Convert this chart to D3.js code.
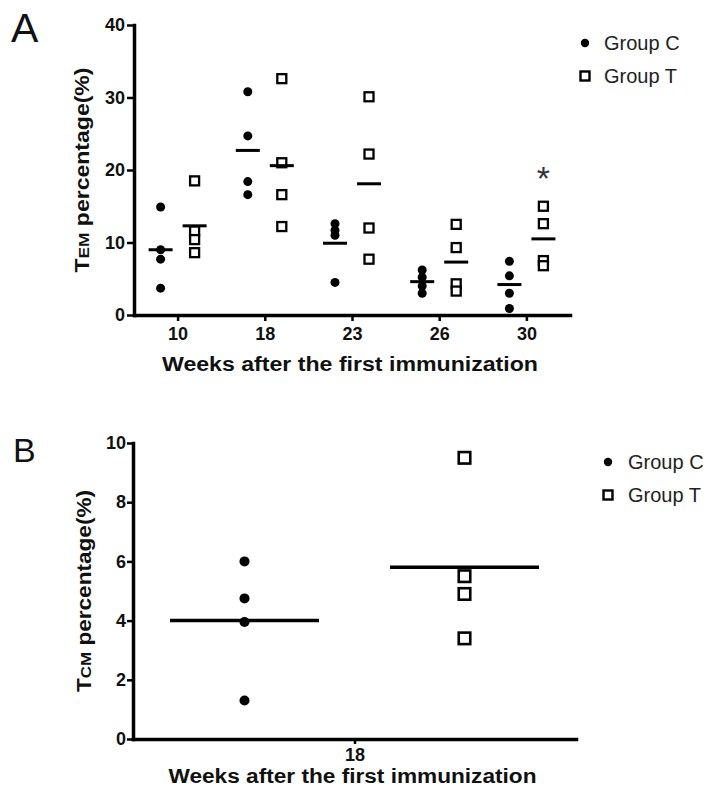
<!DOCTYPE html>
<html>
<head>
<meta charset="utf-8">
<script src="https://cdn.jsdelivr.net/npm/d3@7"></script>
<style>
  body { margin: 0; background: #fff; }
  svg { display: block; font-family: "Liberation Sans", Arial, sans-serif; }
  .axis path, .axis line { stroke: #000; }
  .axis text { font-weight: bold; font-size: 18px; fill: #111; }
</style>
</head>
<body>
<div id="chart"></div>
<script>
  // панель A: недели и значения по группам
  let weeksA = ['10', '18', '23', '26', '30'];
  let groupCA = [
    [14.9, 9.0, 7.7, 3.7],
    [30.8, 24.7, 18.4, 16.6],
    [12.6, 11.7, 11.0, 4.5],
    [6.2, 5.2, 4.0, 3.0],
    [7.4, 5.4, 3.0, 0.9]
  ];
  let groupTA = [
    [18.5, 11.6, 10.4, 8.6],
    [32.6, 21.0, 16.6, 12.2],
    [30.1, 22.2, 12.0, 7.7],
    [12.5, 9.3, 4.3, 3.3],
    [15.0, 12.6, 7.5, 6.8]
  ];
  let meanCA = [9.0, 22.7, 9.9, 4.6, 4.2];
  let meanTA = [12.3, 20.6, 18.1, 7.3, 10.5];
  let yTicksA = [0, 10, 20, 30, 40];

  // панель B
  let weeksB = ['18'];
  let groupCB = [[6.0, 4.75, 3.95, 1.3]];
  let groupTB = [[9.5, 5.5, 4.9, 3.4]];
  let meanCB = [4.0];
  let meanTB = [5.8];
  let yTicksB = [0, 2, 4, 6, 8, 10];

  let groups = ['Group C', 'Group T'];
  let xTitle = 'Weeks after the first immunization';

  let svg = d3.select('#chart').append('svg')
              .attr('width', 709).attr('height', 800);

  // общая функция рисования панели
  function panel(o) {
    let x = d3.scalePoint().domain(o.weeks).range(o.xr).padding(0.5);
    let y = d3.scaleLinear().domain(o.yd).range(o.yr);
    let g = svg.append('g');

    let ya = g.append('g').attr('class', 'axis')
      .attr('transform', `translate(${o.xr[0]},0)`)
      .call(d3.axisLeft(y).tickValues(o.yTicks).tickSize(o.tick).tickSizeOuter(0).tickPadding(o.ypad));
    let xa = g.append('g').attr('class', 'axis')
      .attr('transform', `translate(0,${o.yr[0]})`)
      .call(d3.axisBottom(x).tickSize(o.tick - 1).tickSizeOuter(0).tickPadding(o.xpad));
    g.selectAll('.axis path').attr('stroke-width', 3.5).attr('stroke-linecap', 'square');
    g.selectAll('.axis line').attr('stroke-width', 2.5);

    // точки группы C
    o.c.forEach((vals, i) => {
      g.selectAll(null).data(vals).enter().append('circle')
        .attr('cx', x(o.weeks[i]) - o.off).attr('cy', d => y(d))
        .attr('r', o.r).attr('fill', '#000');
    });
    // квадраты группы T
    o.t.forEach((vals, i) => {
      g.selectAll(null).data(vals).enter().append('rect')
        .attr('x', x(o.weeks[i]) + o.off - o.sq / 2).attr('y', d => y(d) - o.sq / 2)
        .attr('width', o.sq).attr('height', o.sq)
        .attr('fill', '#fff').attr('stroke', '#000').attr('stroke-width', o.sqw);
    });
    // средние
    [[o.mc, -1], [o.mt, 1]].forEach(([m, s]) => {
      g.selectAll(null).data(m).enter().append('line')
        .attr('x1', (d, i) => x(o.weeks[i]) + s * o.off - o.mw / 2)
        .attr('x2', (d, i) => x(o.weeks[i]) + s * o.off + o.mw / 2)
        .attr('y1', d => y(d)).attr('y2', d => y(d))
        .attr('stroke', '#000').attr('stroke-width', o.ms);
    });

    // подписи осей
    g.append('text').attr('x', d3.mean(o.xr) - 2).attr('y', o.xty)
      .attr('text-anchor', 'middle').attr('font-weight', 'bold').attr('font-size', 20)
      .attr('textLength', o.xtl).attr('lengthAdjust', 'spacingAndGlyphs')
      .attr('fill', '#111').text(xTitle);

    let yt = g.append('text')
      .attr('transform', `translate(${o.ytx},${d3.mean(o.yr)}) rotate(-90)`)
      .attr('text-anchor', 'middle').attr('font-weight', 'bold').attr('font-size', 20)
      .attr('textLength', o.ytl).attr('lengthAdjust', 'spacingAndGlyphs').attr('fill', '#111');
    yt.append('tspan').text('T');
    yt.append('tspan').attr('font-size', 15).text(o.sub);
    yt.append('tspan').text(' percentage(%)');

    // буква панели
    g.append('text').attr('x', o.lx).attr('y', o.ly).attr('font-size', o.ls)
      .attr('fill', '#111').text(o.letter);

    // легенда
    let lg = g.append('g').attr('transform', `translate(${o.leg[0]},${o.leg[1]})`);
    lg.append('circle').attr('cx', 0).attr('cy', 0).attr('r', 4.2).attr('fill', '#000');
    lg.append('rect').attr('x', -4.5).attr('y', 28.5).attr('width', 9).attr('height', 9)
      .attr('fill', '#fff').attr('stroke', '#000').attr('stroke-width', 2.4);
    lg.selectAll(null).data(groups).enter().append('text')
      .attr('x', o.legdx).attr('y', (d, i) => i * 33 + 7)
      .attr('font-size', 20).attr('fill', '#222').text(d => d);

    return { x, y, g };
  }

  let A = panel({
    weeks: weeksA, c: groupCA, t: groupTA, mc: meanCA, mt: meanTA,
    yd: [0, 40], yTicks: yTicksA, xr: [134, 570], yr: [315, 25],
    tick: 7, ypad: 2, xpad: 6, off: 17, r: 4.5, sq: 9, sqw: 2.3, mw: 24, ms: 3,
    xty: 371, xtl: 376, ytx: 89, ytl: 205, sub: 'EM',
    letter: 'A', lx: 11, ly: 42, ls: 41, leg: [585, 43], legdx: 19
  });

  let B = panel({
    weeks: weeksB, c: groupCB, t: groupTB, mc: meanCB, mt: meanTB,
    yd: [0, 10], yTicks: yTicksB, xr: [133, 576], yr: [739, 443],
    tick: 6, ypad: 1, xpad: 4, off: 110, r: 5, sq: 11.5, sqw: 2.6, mw: 149, ms: 3.5,
    xty: 783, xtl: 368, ytx: 91, ytl: 202, sub: 'CM',
    letter: 'B', lx: 13, ly: 462, ls: 34, leg: [608, 462], legdx: 20
  });

  // звёздочка над группой T на 30 неделе
  A.g.append('text').attr('x', A.x('30') + 17).attr('y', A.y(19.8) + 19)
    .attr('text-anchor', 'middle').attr('font-size', 34).attr('fill', '#333').text('*');
</script>
</body>
</html>
